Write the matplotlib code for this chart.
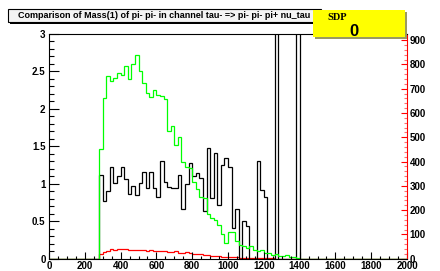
import numpy as np
import matplotlib
matplotlib.use("Agg")
import matplotlib.pyplot as plt
from matplotlib.patches import Rectangle
from matplotlib.ticker import MultipleLocator

plt.rcParams['font.family'] = ['Liberation Sans', 'DejaVu Sans']
plt.rcParams['font.weight'] = 'bold'

# histogram bins: 20 MeV wide from 0 to 2000, data starts at 280
bin_edges = np.arange(0, 2020, 20)
first_bin = 14

# green histogram (left axis)
green_vals = [1.47, 2.14, 2.44, 2.37, 2.41, 2.48, 2.45, 2.57, 2.40, 2.60,
              2.72, 2.50, 2.35, 2.21, 2.16, 2.25, 2.18, 2.17, 2.13, 1.70,
              1.77, 1.52, 1.62, 1.29, 1.23, 1.21, 1.03, 0.93, 0.82, 0.81,
              0.60, 0.55, 0.52, 0.45, 0.33, 0.21, 0.35, 0.36, 0.23, 0.18,
              0.17, 0.14, 0.17, 0.12, 0.10, 0.11, 0.08, 0.07, 0.05, 0.06,
              0.04, 0.03, 0.05, 0.02, 0.02, 0.01]

# black histogram (left axis), two bins go off scale
black_vals = [1.12, 0.77, 0.91, 1.23, 1.01, 1.10, 1.23, 1.07, 0.86, 0.97,
              0.85, 1.01, 1.16, 0.94, 1.16, 0.95, 0.83, 1.30, 1.02, 0.96,
              0.94, 0.94, 1.12, 0.66, 1.00, 1.28, 1.10, 1.14, 1.08, 0.64,
              1.48, 0.81, 1.41, 0.72, 1.25, 1.35, 1.22, 0.41, 0.66, 0.0,
              0.50, 0.44, 0.0, 0.0, 1.30, 0.92, 0.83, 0.0, 0.0, 4.0,
              0.0, 0.0, 0.0, 0.0, 0.0, 4.0]

# red histogram (right axis)
red_vals = [20, 28, 33, 38, 36, 38, 40, 38, 34, 36,
            34, 37, 34, 32, 35, 32, 33, 30, 32, 28,
            27, 30, 25, 24, 26, 22, 20, 18, 20, 15,
            14, 13, 12, 10, 9, 8, 6, 5, 5, 4,
            4, 3, 3, 2, 2, 2, 1, 1, 1, 0]


def full(vals):
    h = np.zeros(len(bin_edges) - 1)
    h[first_bin:first_bin + len(vals)] = vals
    return h


W, H = 440, 271
fig = plt.figure(figsize=(W / 100, H / 100), dpi=100)
ax = fig.add_axes([49 / W, 1 - 258.7 / H, (407 - 49) / W, (258.7 - 34) / H])
ax2 = ax.twinx()
ax.set_zorder(ax2.get_zorder() + 1)
ax.patch.set_visible(False)

ax2.stairs(full(red_vals), bin_edges, color='#ff0000', lw=0.9)
ax.stairs(full(black_vals), bin_edges, color='black', lw=0.9)
ax.stairs(full(green_vals), bin_edges, color='#00ff00', lw=0.9)

ax.set_xlim(0, 2000)
ax.set_ylim(0, 3)
ax2.set_ylim(0, 925)

ax.xaxis.set_major_locator(MultipleLocator(200))
ax.xaxis.set_minor_locator(MultipleLocator(50))
ax.yaxis.set_major_locator(MultipleLocator(0.5))
ax.yaxis.set_minor_locator(MultipleLocator(0.1))
ax2.yaxis.set_major_locator(MultipleLocator(100))
ax2.yaxis.set_minor_locator(MultipleLocator(20))

ax.set_yticks([0, 0.5, 1, 1.5, 2, 2.5, 3], ['0', '0.5', '1', '1.5', '2', '2.5', '3'])

ax.tick_params(axis='x', which='both', direction='in', top=False, labelsize=7, pad=2)
ax.tick_params(axis='x', which='major', length=5, width=0.8)
ax.tick_params(axis='x', which='minor', length=2.5, width=0.8)
ax.tick_params(axis='y', which='both', direction='in', right=False, labelsize=7, pad=2.5)
ax.tick_params(axis='y', which='major', length=7, width=0.8)
ax.tick_params(axis='y', which='minor', length=3.5, width=0.8)
ax2.tick_params(axis='y', which='both', direction='in', labelsize=7, pad=2)
ax2.tick_params(axis='y', which='major', length=4.5, width=0.8, color='#ff0000')
ax2.tick_params(axis='y', which='minor', length=2.5, width=0.8, color='#ff7070')

for s in ['left', 'top', 'bottom']:
    ax.spines[s].set_color('black')
    ax.spines[s].set_linewidth(0.8)
ax.spines['right'].set_color('#ff0000')
ax.spines['right'].set_linewidth(0.8)
for s in ax2.spines.values():
    s.set_visible(False)

for lab in ax.get_xticklabels() + ax.get_yticklabels() + ax2.get_yticklabels():
    lab.set_fontweight('bold')


def box(x0, y0, x1, y1, face, edge, shadow, z):
    # pixel coords, y measured from top
    fig.add_artist(Rectangle((x0 / W + 2 / W, 1 - (y1 + 2) / H), (x1 - x0) / W, (y1 - y0) / H,
                             transform=fig.transFigure, facecolor=shadow, edgecolor='none', zorder=z))
    fig.add_artist(Rectangle((x0 / W, 1 - y1 / H), (x1 - x0) / W, (y1 - y0) / H,
                             transform=fig.transFigure, facecolor=face, edgecolor=edge, lw=0.8, zorder=z + 0.1))


box(8, 9, 321, 22, '#f4f4f4', 'black', 'black', 10)
fig.text(164 / W, 1 - 16 / H, 'Comparison of Mass(1) of pi- pi- in channel tau- => pi- pi- pi+ nu_tau',
         ha='center', va='center', fontsize=6.5, fontweight='bold', zorder=11)

box(313, 10, 405, 37, '#ffff00', 'none', '#9a9a60', 10)
fig.text(327 / W, 1 - 17 / H, 'SDP', ha='left', va='center', fontsize=7.5,
         fontweight='bold', family=['Liberation Serif', 'DejaVu Serif'], zorder=11)
fig.text(354 / W, 1 - 31 / H, '0', ha='center', va='center', fontsize=12,
         fontweight='bold', zorder=11)

fig.savefig('out.png', dpi=100)
